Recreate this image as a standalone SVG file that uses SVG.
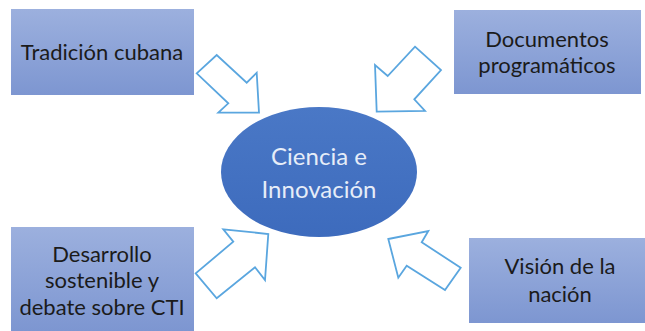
<svg xmlns="http://www.w3.org/2000/svg" width="645" height="331" viewBox="0 0 645 331">
<defs>
<linearGradient id="boxg" x1="0" y1="0" x2="0" y2="1">
<stop offset="0" stop-color="#9cb0de"/>
<stop offset="1" stop-color="#7d96d1"/>
</linearGradient>
<linearGradient id="ellg" x1="0" y1="0" x2="0" y2="1">
<stop offset="0" stop-color="#4a78c6"/>
<stop offset="1" stop-color="#3d6bbd"/>
</linearGradient>
</defs>
<style>
.box{fill:url(#boxg);}
.lbl{font-family:Lato,"Open Sans","Liberation Sans",sans-serif;font-size:22px;fill:#1b1b1b;text-anchor:middle;}
.ctr{font-family:Lato,"Open Sans","Liberation Sans",sans-serif;font-size:24px;fill:#e6edf8;text-anchor:middle;}
.arr{fill:#ffffff;stroke:#5aa6df;stroke-width:1.8;stroke-linejoin:miter;}
</style>
<rect width="645" height="331" fill="#ffffff"/>
<g id="connectors">
<polygon class="arr" points="196.7,73.3 216.7,55 246.7,82.7 256.7,72.7 259,112.7 218.3,112.7 228.3,103.3"/>
<polygon class="arr" points="415,46.7 441,70 414.3,99.3 425,111 376.7,111.7 375,65 387.7,76"/>
<polygon class="arr" points="195.7,273.3 216.7,298.3 255,267.3 265,280 268.3,234 223.3,229.3 233.3,241.7"/>
<polygon class="arr" points="388.3,239 428.3,231 421.7,242.3 460.7,267.7 445,290 406.7,265.7 398.3,277.7"/>
</g>
<g id="node-tradicion">
<rect class="box" x="11" y="9" width="183" height="86"/>
<text class="lbl" x="102" y="60">Tradición cubana</text>
</g>
<g id="node-documentos">
<rect class="box" x="454" y="10" width="187" height="84"/>
<text class="lbl" x="547" y="47">Documentos</text>
<text class="lbl" x="547" y="73">programáticos</text>
</g>
<g id="node-desarrollo">
<rect class="box" x="11" y="227" width="183" height="104"/>
<text class="lbl" x="102" y="262">Desarrollo</text>
<text class="lbl" x="102" y="288">sostenible y</text>
<text class="lbl" x="102" y="315">debate sobre CTI</text>
</g>
<g id="node-vision">
<rect class="box" x="469" y="238" width="176" height="85"/>
<text class="lbl" x="560" y="274">Visión de la</text>
<text class="lbl" x="560" y="302">nación</text>
</g>
<g id="node-ciencia">
<ellipse cx="319" cy="172" rx="98" ry="65" fill="url(#ellg)"/>
<text class="ctr" x="319" y="165">Ciencia e</text>
<text class="ctr" x="319" y="198">Innovación</text>
</g>
</svg>
